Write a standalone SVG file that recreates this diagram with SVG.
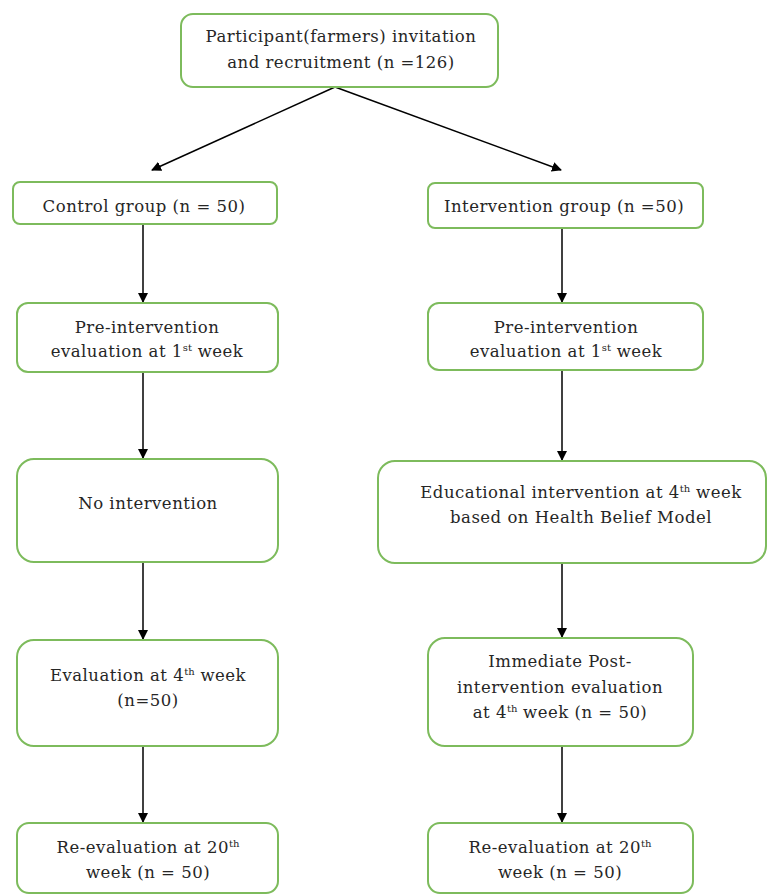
<svg xmlns="http://www.w3.org/2000/svg" width="768" height="895" viewBox="0 0 768 895">
<style>
.box{fill:#fff;stroke:#7dbb5c;stroke-width:2}
text{font-family:"DejaVu Serif","Liberation Serif",serif;font-size:16.5px;letter-spacing:0.5px;fill:#262626;text-anchor:middle}
.sup{font-size:10px;letter-spacing:0}
.con{stroke:#000;stroke-width:1.5;fill:none;marker-end:url(#ah)}
</style>
<defs>
<marker id="ah" viewBox="0 0 10 10" refX="9" refY="5" markerWidth="10" markerHeight="10" markerUnits="userSpaceOnUse" orient="auto">
<path d="M0,0 L10,5 L0,10 z" fill="#000"/>
</marker>
</defs>
<rect width="768" height="895" fill="#fff"/>
<g id="connectors">
<line class="con" x1="335" y1="87" x2="152" y2="170"/>
<line class="con" x1="335" y1="87" x2="561" y2="170"/>
<line class="con" x1="143" y1="225" x2="143" y2="302"/>
<line class="con" x1="143" y1="372" x2="143" y2="458"/>
<line class="con" x1="143" y1="562" x2="143" y2="639"/>
<line class="con" x1="143" y1="746" x2="143" y2="822"/>
<line class="con" x1="562" y1="228" x2="562" y2="302"/>
<line class="con" x1="562" y1="370" x2="562" y2="460"/>
<line class="con" x1="562" y1="563" x2="562" y2="637"/>
<line class="con" x1="562" y1="746" x2="562" y2="822"/>
</g>
<g id="recruit">
<rect class="box" x="181" y="14" width="317" height="73" rx="12"/>
<text x="341" y="42">Participant(farmers) invitation</text>
<text x="341" y="68">and recruitment (n =126)</text>
</g>
<g id="control">
<rect class="box" x="13" y="182" width="264" height="42" rx="7"/>
<text x="144" y="212">Control group (n = 50)</text>
</g>
<g id="intervention">
<rect class="box" x="428" y="183" width="275" height="45" rx="7"/>
<text x="564" y="212">Intervention group (n =50)</text>
</g>
<g id="pre-control">
<rect class="box" x="17" y="303" width="261" height="69" rx="11"/>
<text x="147" y="333">Pre-intervention</text>
<text x="147" y="357">evaluation at 1<tspan class="sup" dy="-6">st</tspan><tspan dy="6"> week</tspan></text>
</g>
<g id="pre-intervention">
<rect class="box" x="428" y="303" width="275" height="67" rx="11"/>
<text x="566" y="333">Pre-intervention</text>
<text x="566" y="357">evaluation at 1<tspan class="sup" dy="-6">st</tspan><tspan dy="6"> week</tspan></text>
</g>
<g id="no-intervention">
<rect class="box" x="17" y="459" width="261" height="103" rx="17"/>
<text x="148" y="509">No intervention</text>
</g>
<g id="educational">
<rect class="box" x="378" y="461" width="388" height="102" rx="17"/>
<text x="581" y="498">Educational intervention at 4<tspan class="sup" dy="-6">th</tspan><tspan dy="6"> week</tspan></text>
<text x="581" y="523">based on Health Belief Model</text>
</g>
<g id="eval-control">
<rect class="box" x="17" y="640" width="261" height="106" rx="17"/>
<text x="148" y="681">Evaluation at 4<tspan class="sup" dy="-6">th</tspan><tspan dy="6"> week</tspan></text>
<text x="148" y="706">(n=50)</text>
</g>
<g id="eval-intervention">
<rect class="box" x="428" y="638" width="265" height="108" rx="17"/>
<text x="560" y="667">Immediate Post-</text>
<text x="560" y="693">intervention evaluation</text>
<text x="560" y="718">at 4<tspan class="sup" dy="-6">th</tspan><tspan dy="6"> week (n = 50)</tspan></text>
</g>
<g id="reeval-control">
<rect class="box" x="17" y="823" width="261" height="70" rx="12"/>
<text x="148" y="853">Re-evaluation at 20<tspan class="sup" dy="-6">th</tspan></text>
<text x="148" y="878">week (n = 50)</text>
</g>
<g id="reeval-intervention">
<rect class="box" x="428" y="823" width="265" height="70" rx="12"/>
<text x="560" y="853">Re-evaluation at 20<tspan class="sup" dy="-6">th</tspan></text>
<text x="560" y="878">week (n = 50)</text>
</g>
</svg>
